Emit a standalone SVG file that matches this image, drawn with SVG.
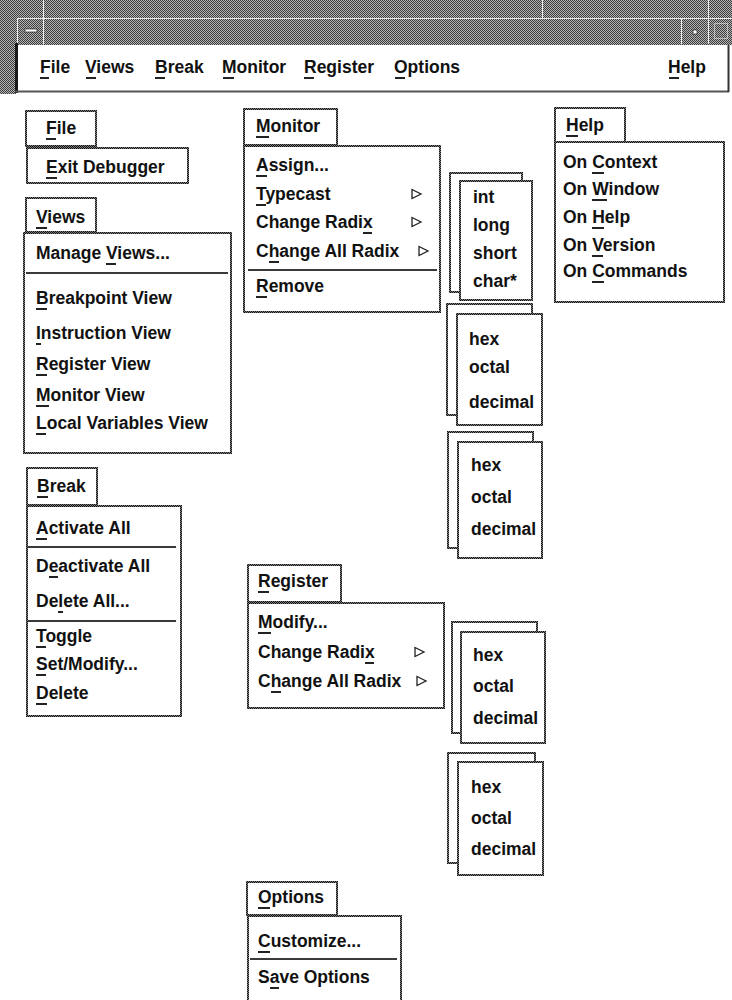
<svg xmlns="http://www.w3.org/2000/svg" width="732" height="1000" viewBox="0 0 732 1000">
  <defs>
    <!-- stippled grey used by the window frame -->
    <pattern id="frame" width="2" height="2" patternUnits="userSpaceOnUse">
      <rect width="2" height="2" fill="#b4b4b4"/>
      <rect x="0" y="0" width="1" height="1" fill="#3c3c3c"/>
      <rect x="1" y="1" width="1" height="1" fill="#3c3c3c"/>
    </pattern>
    <!-- stippled dark edge used by menu panes -->
    <pattern id="edge" width="2" height="2" patternUnits="userSpaceOnUse">
      <rect width="2" height="2" fill="#7a7a7a"/>
      <rect x="0" y="0" width="1" height="1" fill="#111"/>
      <rect x="1" y="1" width="1" height="1" fill="#111"/>
    </pattern>
    <polygon id="cascade" points="0,-4.5 9,0 0,4.5" fill="none" stroke="#222" stroke-width="1.3"/>
  </defs>
  <style>
    .box { fill: #fff; stroke: url(#edge); stroke-width: 2; }
    .t { font-family: "Liberation Sans", Arial, Helvetica, sans-serif; font-weight: bold; font-size: 17.5px; fill: #111; }
    .sep { stroke: #3a3a3a; stroke-width: 2; }
    .ul { fill: #222; }
    .hl { stroke: #eeeeee; stroke-width: 1; }
  </style>

  <rect width="732" height="1000" fill="#fff"/>

  <!-- window frame and title bar -->
  <g id="window-frame">
    <rect x="0" y="0" width="732" height="45" fill="url(#frame)"/>
    <rect x="0" y="0" width="16" height="94" fill="url(#frame)"/>
    <line class="hl" x1="17" y1="18.5" x2="732" y2="18.5"/>
    <line class="hl" x1="43.5" y1="0" x2="43.5" y2="44"/>
    <line class="hl" x1="17.5" y1="18" x2="17.5" y2="44"/>
    <line class="hl" x1="542.5" y1="0" x2="542.5" y2="18"/>
    <line class="hl" x1="681.5" y1="18" x2="681.5" y2="44"/>
    <line class="hl" x1="708.5" y1="0" x2="708.5" y2="44"/>
    <rect x="25" y="29" width="12" height="3" fill="#fff" stroke="#333" stroke-width="0.8"/>
    <rect x="693" y="30" width="4" height="4" fill="#fff" stroke="#333" stroke-width="0.8"/>
    <rect x="714.5" y="23.5" width="13" height="15" fill="none" stroke="#f4f4f4" stroke-width="1" stroke-dasharray="1 1"/>
  </g>

  <!-- menu bar -->
  <g id="menubar">
    <rect x="17" y="45" width="711" height="46" fill="#fff"/>
    <line x1="16.5" y1="43" x2="16.5" y2="93" stroke="#1a1a1a" stroke-width="3"/>
    <line x1="15" y1="91.5" x2="729" y2="91.5" stroke="#555" stroke-width="2"/>
    <line x1="728.5" y1="45" x2="728.5" y2="92" stroke="#333" stroke-width="2"/>
    <text class="t" x="40" y="73">File</text>
    <text class="t" x="85" y="73">Views</text>
    <text class="t" x="155" y="73">Break</text>
    <text class="t" x="222" y="73">Monitor</text>
    <text class="t" x="304" y="73">Register</text>
    <text class="t" x="394" y="73">Options</text>
    <text class="t" x="668" y="73">Help</text>
    <rect class="ul" x="40" y="77" width="9" height="2"/>
    <rect class="ul" x="86" y="77" width="10" height="2"/>
    <rect class="ul" x="155" y="77" width="10" height="2"/>
    <rect class="ul" x="223" y="77" width="11" height="2"/>
    <rect class="ul" x="304" y="77" width="10" height="2"/>
    <rect class="ul" x="395" y="77" width="10" height="2"/>
    <rect class="ul" x="669" y="77" width="10" height="2"/>
  </g>

  <!-- File -->
  <g id="file-title">
    <rect class="box" x="26" y="111" width="70" height="35"/>
    <text class="t" x="46" y="134">File</text>
    <rect class="ul" x="46" y="138" width="10" height="2"/>
  </g>
  <g id="file-menu">
    <rect class="box" x="27" y="148" width="161" height="35"/>
    <text class="t" x="46" y="173">Exit Debugger</text>
    <rect class="ul" x="46" y="177" width="11" height="2"/>
  </g>

  <!-- Views -->
  <g id="views-title">
    <rect class="box" x="26" y="198" width="70" height="34"/>
    <text class="t" x="36" y="223">Views</text>
    <rect class="ul" x="36" y="227" width="11" height="2"/>
  </g>
  <g id="views-menu">
    <rect class="box" x="24" y="233" width="207" height="220"/>
    <text class="t" x="36" y="259">Manage Views...</text>
    <rect class="ul" x="106" y="263" width="10" height="2"/>
    <line class="sep" x1="26" y1="273" x2="228" y2="273"/>
    <text class="t" x="36" y="304">Breakpoint View</text>
    <rect class="ul" x="36" y="308" width="11" height="2"/>
    <text class="t" x="36" y="339">Instruction View</text>
    <rect class="ul" x="36" y="343" width="5" height="2"/>
    <text class="t" x="36" y="370">Register View</text>
    <rect class="ul" x="36" y="374" width="11" height="2"/>
    <text class="t" x="36" y="401">Monitor View</text>
    <rect class="ul" x="36" y="405" width="13" height="2"/>
    <text class="t" x="36" y="429">Local Variables View</text>
    <rect class="ul" x="36" y="433" width="10" height="2"/>
  </g>

  <!-- Break -->
  <g id="break-title">
    <rect class="box" x="27" y="468" width="70" height="37"/>
    <text class="t" x="37" y="492">Break</text>
    <rect class="ul" x="37" y="496" width="11" height="2"/>
  </g>
  <g id="break-menu">
    <rect class="box" x="27" y="506" width="154" height="210"/>
    <text class="t" x="36" y="534">Activate All</text>
    <rect class="ul" x="36" y="538" width="11" height="2"/>
    <line class="sep" x1="28" y1="547" x2="176" y2="547"/>
    <text class="t" x="36" y="572">Deactivate All</text>
    <rect class="ul" x="49" y="576" width="9" height="2"/>
    <text class="t" x="36" y="607">Delete All...</text>
    <rect class="ul" x="58" y="611" width="5" height="2"/>
    <line class="sep" x1="28" y1="621" x2="176" y2="621"/>
    <text class="t" x="36" y="642">Toggle</text>
    <rect class="ul" x="36" y="646" width="10" height="2"/>
    <text class="t" x="36" y="670">Set/Modify...</text>
    <rect class="ul" x="36" y="674" width="10" height="2"/>
    <text class="t" x="36" y="699">Delete</text>
    <rect class="ul" x="36" y="703" width="11" height="2"/>
  </g>

  <!-- Monitor -->
  <g id="monitor-title">
    <rect class="box" x="244" y="109" width="93" height="36"/>
    <text class="t" x="256" y="132">Monitor</text>
    <rect class="ul" x="256" y="136" width="13" height="2"/>
  </g>
  <g id="monitor-menu">
    <rect class="box" x="244" y="146" width="196" height="166"/>
    <text class="t" x="256" y="171">Assign...</text>
    <rect class="ul" x="256" y="175" width="11" height="2"/>
    <text class="t" x="256" y="200">Typecast</text>
    <rect class="ul" x="256" y="204" width="10" height="2"/>
    <use href="#cascade" x="412" y="194"/>
    <text class="t" x="256" y="228">Change Radix</text>
    <rect class="ul" x="363" y="232" width="9" height="2"/>
    <use href="#cascade" x="412" y="222"/>
    <text class="t" x="256" y="257">Change All Radix</text>
    <rect class="ul" x="269" y="261" width="10" height="2"/>
    <use href="#cascade" x="419" y="251"/>
    <line class="sep" x1="248" y1="270" x2="437" y2="270"/>
    <text class="t" x="256" y="292">Remove</text>
    <rect class="ul" x="256" y="296" width="11" height="2"/>
  </g>
  <g id="monitor-typecast">
    <rect class="box" x="450" y="173" width="72" height="119"/>
    <rect class="box" x="460" y="181" width="72" height="119"/>
    <text class="t" x="473" y="203">int</text>
    <text class="t" x="473" y="231">long</text>
    <text class="t" x="473" y="259">short</text>
    <text class="t" x="473" y="287">char*</text>
  </g>
  <g id="monitor-radix">
    <rect class="box" x="447" y="304" width="85" height="111"/>
    <rect class="box" x="457" y="314" width="85" height="111"/>
    <text class="t" x="469" y="345">hex</text>
    <text class="t" x="469" y="373">octal</text>
    <text class="t" x="469" y="408">decimal</text>
  </g>
  <g id="monitor-all-radix">
    <rect class="box" x="448" y="432" width="85" height="116"/>
    <rect class="box" x="458" y="442" width="84" height="116"/>
    <text class="t" x="471" y="471">hex</text>
    <text class="t" x="471" y="503">octal</text>
    <text class="t" x="471" y="535">decimal</text>
  </g>

  <!-- Help -->
  <g id="help-title">
    <rect class="box" x="555" y="108" width="70" height="34"/>
    <text class="t" x="566" y="131">Help</text>
    <rect class="ul" x="566" y="135" width="12" height="2"/>
  </g>
  <g id="help-menu">
    <rect class="box" x="555" y="142" width="169" height="160"/>
    <text class="t" x="563" y="168">On Context</text>
    <rect class="ul" x="592" y="172" width="12" height="2"/>
    <text class="t" x="563" y="195">On Window</text>
    <rect class="ul" x="592" y="199" width="15" height="2"/>
    <text class="t" x="563" y="223">On Help</text>
    <rect class="ul" x="592" y="227" width="12" height="2"/>
    <text class="t" x="563" y="251">On Version</text>
    <rect class="ul" x="592" y="255" width="11" height="2"/>
    <text class="t" x="563" y="277">On Commands</text>
    <rect class="ul" x="592" y="281" width="12" height="2"/>
  </g>

  <!-- Register -->
  <g id="register-title">
    <rect class="box" x="248" y="565" width="93" height="37"/>
    <text class="t" x="258" y="587">Register</text>
    <rect class="ul" x="258" y="591" width="11" height="2"/>
  </g>
  <g id="register-menu">
    <rect class="box" x="248" y="603" width="196" height="105"/>
    <text class="t" x="258" y="628">Modify...</text>
    <rect class="ul" x="258" y="632" width="13" height="2"/>
    <text class="t" x="258" y="658">Change Radix</text>
    <rect class="ul" x="365" y="662" width="9" height="2"/>
    <use href="#cascade" x="415" y="652"/>
    <text class="t" x="258" y="687">Change All Radix</text>
    <rect class="ul" x="271" y="691" width="10" height="2"/>
    <use href="#cascade" x="417" y="681"/>
  </g>
  <g id="register-radix">
    <rect class="box" x="452" y="622" width="85" height="111"/>
    <rect class="box" x="461" y="632" width="84" height="111"/>
    <text class="t" x="473" y="661">hex</text>
    <text class="t" x="473" y="692">octal</text>
    <text class="t" x="473" y="724">decimal</text>
  </g>
  <g id="register-all-radix">
    <rect class="box" x="448" y="753" width="87" height="110"/>
    <rect class="box" x="458" y="762" width="85" height="113"/>
    <text class="t" x="471" y="793">hex</text>
    <text class="t" x="471" y="824">octal</text>
    <text class="t" x="471" y="855">decimal</text>
  </g>

  <!-- Options -->
  <g id="options-title">
    <rect class="box" x="247" y="882" width="90" height="33"/>
    <text class="t" x="258" y="903">Options</text>
    <rect class="ul" x="258" y="907" width="12" height="2"/>
  </g>
  <g id="options-menu">
    <rect class="box" x="248" y="916" width="153" height="100"/>
    <text class="t" x="258" y="947">Customize...</text>
    <rect class="ul" x="258" y="951" width="12" height="2"/>
    <line class="sep" x1="250" y1="959" x2="397" y2="959"/>
    <text class="t" x="258" y="983">Save Options</text>
    <rect class="ul" x="270" y="987" width="9" height="2"/>
  </g>
</svg>
